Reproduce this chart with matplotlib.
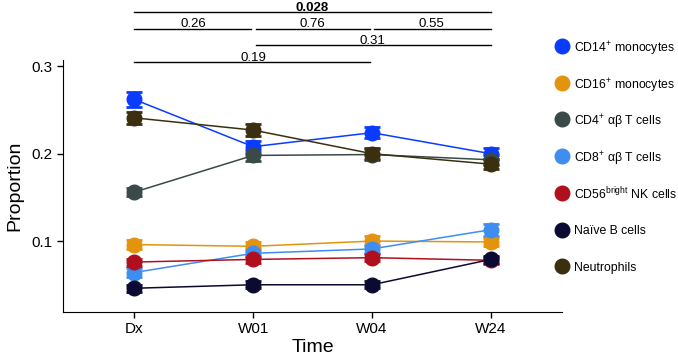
import matplotlib
matplotlib.use("Agg")
import matplotlib.pyplot as plt
from matplotlib.lines import Line2D
import numpy as np

plt.rcParams['font.family'] = ['Liberation Sans', 'DejaVu Sans']
plt.rcParams['mathtext.fontset'] = 'custom'
plt.rcParams['mathtext.rm'] = 'Liberation Sans'
plt.rcParams['mathtext.it'] = 'Liberation Sans'

timepoints = ["Dx", "W01", "W04", "W24"]
series_names = [
    "CD14$^{+}$ monocytes",
    "CD16$^{+}$ monocytes",
    "CD4$^{+}$ αβ T cells",
    "CD8$^{+}$ αβ T cells",
    "CD56$^{\\mathrm{bright}}$ NK cells",
    "Naïve B cells",
    "Neutrophils",
]
colors = ["#0A3BFF", "#E3940F", "#3A4A48", "#3D8EF0", "#B0101E", "#0A0A33", "#3A3010"]

cd14 = [0.262, 0.208, 0.224, 0.200]
cd16 = [0.096, 0.094, 0.100, 0.099]
cd4 = [0.156, 0.198, 0.199, 0.193]
cd8 = [0.064, 0.086, 0.091, 0.113]
cd56 = [0.076, 0.079, 0.081, 0.078]
naiveb = [0.046, 0.050, 0.050, 0.079]
neutro = [0.241, 0.227, 0.200, 0.188]
values = [cd14, cd16, cd4, cd8, cd56, naiveb, neutro]

cd14_err = [0.009, 0.007, 0.006, 0.006]
cd16_err = [0.005, 0.005, 0.006, 0.005]
cd4_err = [0.005, 0.006, 0.006, 0.006]
cd8_err = [0.005, 0.005, 0.005, 0.007]
cd56_err = [0.004, 0.004, 0.004, 0.004]
naiveb_err = [0.004, 0.004, 0.004, 0.004]
neutro_err = [0.007, 0.007, 0.006, 0.006]
errors = [cd14_err, cd16_err, cd4_err, cd8_err, cd56_err, naiveb_err, neutro_err]

# significance brackets
sig_starts = [0, 0, 1, 2, 1, 0]
sig_ends = [3, 1, 2, 3, 3, 2]
sig_levels = [0.3617, 0.3426, 0.3426, 0.3426, 0.324, 0.3046]
sig_labels = ["0.028", "0.26", "0.76", "0.55", "0.31", "0.19"]
sig_bold = [True, False, False, False, False, False]

W, H = 678, 356
fig = plt.figure(figsize=(W / 100, H / 100), dpi=100)
ax = fig.add_axes([0.093, 0.124, 0.736, 0.707])
x = np.arange(1, len(timepoints) + 1)

for name, col, v, e in zip(series_names, colors, values, errors):
    ax.plot(x, v, color=col, lw=1.1, zorder=2)
    ax.errorbar(x, v, yerr=e, fmt='none', ecolor=col, elinewidth=1.5,
                capsize=6, capthick=2, zorder=3)
    ax.plot(x, v, 'o', color=col, ms=10.5, zorder=4)

ax.set_xlim(0.4, 4.6)
ax.set_ylim(0.019, 0.307)
ax.set_xticks(x)
ax.set_xticklabels(timepoints, fontsize=11)
ax.set_yticks([0.1, 0.2, 0.3])
ax.set_yticklabels(["0.1", "0.2", "0.3"], fontsize=11)
ax.set_xlabel("Time", fontsize=14, labelpad=2)
ax.set_ylabel("Proportion", fontsize=14, labelpad=6)
ax.spines['top'].set_visible(False)
ax.spines['right'].set_visible(False)
ax.tick_params(direction='out', length=4, width=1)

pad = 0.02
for s, e_, lvl, lab, b in zip(sig_starts, sig_ends, sig_levels, sig_labels, sig_bold):
    x0 = x[s] + (pad if s > 0 else 0)
    x1 = x[e_] - (pad if e_ < 3 else 0)
    ax.plot([x0, x1], [lvl, lvl], color='black', lw=1, clip_on=False)
    ax.text((x[s] + x[e_]) / 2, lvl + 0.0018, lab, ha='center', va='baseline',
            fontsize=9.5, fontweight='bold' if b else 'normal')

# manual legend (figure pixel positions)
leg_x_marker = 562 / W
leg_x_text = 574 / W
leg_y0 = 46
leg_dy = 36.7
for i, (name, col) in enumerate(zip(series_names, colors)):
    yy = 1 - (leg_y0 + i * leg_dy) / H
    fig.add_artist(Line2D([leg_x_marker], [yy], marker='o', ms=10.5, color=col,
                          linestyle='none', transform=fig.transFigure))
    fig.text(leg_x_text, yy, name, fontsize=8.8, va='center_baseline', ha='left')

fig.savefig("out.png", dpi=100)
